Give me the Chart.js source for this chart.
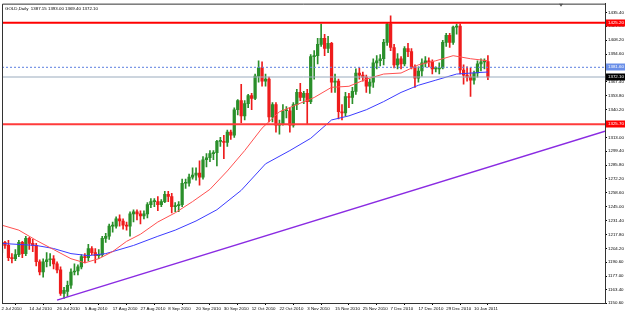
<!DOCTYPE html>
<html>
<head>
<meta charset="utf-8">
<script src="https://cdn.jsdelivr.net/npm/chart.js@4.4.1/dist/chart.umd.min.js"></script>
<style>
  html, body { margin: 0; padding: 0; background: #fff; }
  #wrap { width: 625px; height: 313px; }
</style>
</head>
<body>
<div id="wrap"><canvas id="chart" width="625" height="313"></canvas></div>
<script>
/* ===============================
   DATA (GOLD, Daily, bar index 0 = 2 Jul 2010)
=============================== */
const xTickIdx = [0, 8, 16, 24, 32, 40, 48, 56, 64, 72, 80, 88, 96, 104, 112, 120, 128, 136];
const xTickLabels = [
  '2 Jul 2010', '14 Jul 2010', '26 Jul 2010', '5 Aug 2010', '17 Aug 2010', '27 Aug 2010',
  '8 Sep 2010', '20 Sep 2010', '30 Sep 2010', '12 Oct 2010', '22 Oct 2010', '3 Nov 2010',
  '15 Nov 2010', '25 Nov 2010', '7 Dec 2010', '17 Dec 2010', '29 Dec 2010', '10 Jan 2011'
];
const yTicks = [
  1435.40, 1421.80, 1408.20, 1394.60, 1381.00, 1367.40, 1353.80, 1340.20, 1326.60, 1313.00,
  1299.40, 1285.80, 1272.20, 1258.60, 1245.00, 1231.40, 1217.80, 1204.20, 1190.60, 1177.00,
  1163.40, 1150.60
];

const opens = [
  1200,1210,1207,1195,1194,1198,1210,1199,1214,1209,
  1207,1191,1181,1191,1193,1194,1189,1183,1160,1162,
  1168,1181,1182,1186,1196,1195,1204,1200,1197,1198,
  1214,1216,1226,1226,1233,1231,1227,1226,1238,1240,
  1238,1236,1238,1247,1250,1250,1247,1250,1257,1255,
  1245,1246,1247,1268,1268,1274,1276,1278,1274,1291,
  1293,1297,1298,1309,1309,1308,1318,1315,1340,1349,
  1334,1346,1354,1351,1373,1381,1368,1370,1333,1345,
  1325,1326,1339,1339,1325,1345,1357,1352,1356,1348,
  1392,1393,1404,1410,1400,1405,1367,1368,1338,1337,
  1353,1352,1358,1376,1374,1372,1363,1367,1386,1388,
  1390,1406,1424,1401,1384,1390,1385,1400,1397,1382,
  1371,1378,1386,1388,1387,1380,1380,1381,1406,1413,
  1406,1421,1422,1379,1374,1372,1369,1376,1385,1387,
  1387.15
];
const highs = [
  1212,1211,1212,1199,1203,1212,1211,1216,1215,1213,
  1209,1193,1194,1200,1199,1197,1191,1186,1166,1172,
  1184,1189,1188,1198,1199,1208,1206,1204,1203,1216,
  1219,1228,1230,1235,1237,1233,1230,1240,1242,1242,
  1241,1241,1249,1253,1253,1255,1252,1260,1260,1258,
  1249,1250,1272,1272,1277,1283,1283,1290,1294,1297,
  1300,1300,1310,1313,1315,1320,1320,1342,1350,1365,
  1349,1355,1356,1375,1388,1387,1375,1372,1347,1347,
  1330,1345,1343,1342,1347,1360,1366,1358,1360,1394,
  1398,1410,1424,1414,1412,1406,1375,1370,1345,1357,
  1356,1362,1380,1381,1377,1374,1370,1390,1393,1394,
  1409,1425,1432,1404,1395,1392,1402,1405,1400,1384,
  1382,1390,1392,1391,1389,1382,1386,1408,1415,1415,
  1422,1424,1424,1384,1382,1381,1378,1388,1390,1390,
  1393.00
];
const lows = [
  1196,1204,1192,1190,1192,1196,1195,1197,1203,1201,
  1187,1178,1176,1186,1187,1184,1180,1158,1155,1157,
  1165,1178,1178,1184,1190,1192,1198,1190,1194,1196,
  1210,1213,1220,1224,1226,1223,1222,1216,1230,1232,
  1228,1233,1234,1244,1245,1241,1245,1249,1250,1239,
  1240,1240,1245,1263,1265,1272,1271,1266,1272,1284,
  1289,1291,1285,1304,1292,1304,1311,1313,1335,1327,
  1330,1342,1340,1350,1367,1363,1363,1328,1328,1318,
  1316,1325,1332,1318,1323,1340,1349,1346,1326,1346,
  1370,1385,1402,1393,1396,1357,1357,1331,1330,1334,
  1342,1346,1355,1370,1368,1357,1356,1362,1380,1383,
  1384,1403,1398,1381,1380,1380,1383,1392,1380,1362,
  1367,1373,1382,1382,1375,1377,1375,1380,1402,1401,
  1404,1414,1375,1365,1368,1353,1365,1372,1378,1380,
  1369.40
];
const closes = [
  1210,1207,1195,1194,1198,1210,1199,1214,1209,1207,
  1191,1181,1191,1193,1194,1189,1183,1160,1163,1168,
  1181,1182,1186,1196,1195,1204,1200,1197,1198,1214,
  1216,1226,1226,1233,1231,1227,1226,1238,1240,1238,
  1236,1238,1247,1250,1250,1247,1250,1257,1255,1245,
  1246,1247,1268,1268,1274,1276,1278,1274,1291,1293,
  1297,1298,1309,1309,1308,1318,1315,1340,1349,1334,
  1346,1354,1351,1373,1381,1368,1370,1333,1345,1325,
  1326,1339,1339,1325,1345,1357,1352,1356,1348,1392,
  1393,1404,1410,1400,1405,1367,1368,1338,1337,1353,
  1352,1358,1376,1374,1372,1363,1367,1386,1388,1390,
  1406,1424,1401,1384,1390,1385,1400,1397,1382,1371,
  1378,1386,1388,1387,1380,1380,1381,1406,1413,1406,
  1421,1422,1379,1374,1372,1369,1376,1385,1387,1387,
  1372.10
];

// moving averages at a few bars
const redMaIdx = [0, 5, 10, 15, 20, 24, 28, 32, 36, 40, 45, 50, 55, 60, 65, 70, 75, 80, 85, 90, 95, 100, 105, 110, 115, 120, 125, 130, 135, 140];
const redMaVal = [1227, 1222, 1212, 1203, 1194, 1190, 1194, 1201, 1211, 1218, 1230, 1239, 1250, 1262, 1280, 1300, 1322, 1338, 1345, 1352, 1362, 1363, 1370, 1375, 1376, 1384, 1388, 1393, 1390, 1388];
const blueMaIdx = [0, 10, 15, 20, 25, 30, 38, 45, 50, 56, 62, 69, 76, 83, 89, 95, 100, 105, 110, 115, 120, 125, 131, 138, 140];
const blueMaVal = [1209, 1207, 1204, 1199, 1197, 1199, 1207, 1216, 1222, 1231, 1242, 1261, 1287, 1300, 1312, 1330, 1334, 1340, 1348, 1357, 1364, 1369, 1375, 1376.6, 1377];

// drawn objects
const resistanceLevel = 1425.2;
const supportLevel = 1325.7;
const askLevel = 1381.6;
const bidLevel = 1372.10;
const trendIdx = [16, 173.7];
const trendVal = [1153.4, 1318.9];
const shiftIdx = 161;

const titleText = 'GOLD,Daily  1387.15 1393.00 1369.40 1372.10';

/* ===============================
   SCALE RANGE
=============================== */
const xMin = 0.15, xMax = 173.7;
const yMin = 1150.6, yMax = 1444.0;

const bull = '#2a8f2a';
const bear = '#ee1c1c';
const isBull = i => closes[i] >= opens[i];

const wickData = highs.map((h, i) => ({ x: i, y: [lows[i], h] }));
const bodyData = opens.map((o, i) => ({ x: i, y: [Math.min(o, closes[i]), Math.max(o, closes[i])] }));
const pts = (xs, ys) => xs.map((x, i) => ({ x, y: ys[i] }));
const flat = v => [{ x: xMin, y: v }, { x: xMax, y: v }];

const font = { family: '"Liberation Sans", Arial, sans-serif', size: 4.4 };

/* ===============================
   OVERLAY: frame, title, price tags
=============================== */
const overlay = {
  id: 'overlay',
  afterDraw(chart) {
    const { ctx, chartArea: a, scales: { x, y } } = chart;
    ctx.save();
    ctx.strokeStyle = '#333';
    ctx.lineWidth = 1;
    ctx.beginPath();
    ctx.moveTo(a.left + 0.5, a.bottom);
    ctx.lineTo(a.left + 0.5, a.top + 0.5);
    ctx.lineTo(a.right, a.top + 0.5);
    ctx.stroke();

    // chart shift marker
    const sx = Math.round(x.getPixelForValue(shiftIdx));
    ctx.fillStyle = '#555';
    ctx.beginPath();
    ctx.moveTo(sx - 2, a.top);
    ctx.lineTo(sx + 2, a.top);
    ctx.lineTo(sx, a.top + 3);
    ctx.closePath();
    ctx.fill();

    ctx.fillStyle = '#000';
    ctx.font = `${font.size}px ${font.family}`;
    ctx.textBaseline = 'middle';
    ctx.fillText(titleText, a.left + 3, a.top + 5);

    const tags = [
      { v: resistanceLevel, bg: '#ff0000', fg: '#fff' },
      { v: askLevel, bg: '#6a8fe8', fg: '#fff' },
      { v: bidLevel, bg: '#000', fg: '#fff' },
      { v: supportLevel, bg: '#ff0000', fg: '#fff' }
    ];
    tags.forEach(t => {
      const py = Math.round(y.getPixelForValue(t.v));
      ctx.fillStyle = t.bg;
      ctx.fillRect(a.right + 1, py - 3.5, 19, 7);
      ctx.fillStyle = t.fg;
      ctx.fillText(t.v.toFixed(2), a.right + 3, py);
    });
    ctx.restore();
  }
};

/* ===============================
   CHART
=============================== */
new Chart(document.getElementById('chart'), {
  type: 'bar',
  data: {
    datasets: [
      { type: 'line', data: pts(trendIdx, trendVal), borderColor: '#8a2be2', borderWidth: 1.5, pointRadius: 0, order: 1 },
      { type: 'line', data: flat(resistanceLevel), borderColor: '#ff0000', borderWidth: 2, pointRadius: 0, order: 1 },
      { type: 'line', data: flat(supportLevel), borderColor: '#ff3b3b', borderWidth: 2, pointRadius: 0, order: 1 },
      { type: 'line', data: flat(askLevel), borderColor: '#5a7fe0', borderWidth: 1, borderDash: [2, 2], pointRadius: 0, order: 1 },
      { type: 'line', data: flat(bidLevel), borderColor: '#9aabbd', borderWidth: 1, pointRadius: 0, order: 1 },
      { type: 'line', data: pts(redMaIdx, redMaVal), borderColor: '#ff5050', borderWidth: 1, pointRadius: 0, order: 2 },
      { type: 'line', data: pts(blueMaIdx, blueMaVal), borderColor: '#3c3cff', borderWidth: 1, pointRadius: 0, order: 2 },
      {
        data: bodyData, grouped: false, barThickness: 2.6, minBarLength: 1, order: 3,
        backgroundColor: c => isBull(c.dataIndex) ? bull : bear
      },
      {
        data: wickData, grouped: false, barThickness: 1, order: 4,
        backgroundColor: c => isBull(c.dataIndex) ? bull : bear
      }
    ]
  },
  options: {
    responsive: false,
    animation: false,
    devicePixelRatio: 1,
    layout: { padding: { left: 2, top: 3, right: 0, bottom: 0 } },
    plugins: { legend: { display: false }, tooltip: { enabled: false } },
    scales: {
      x: {
        type: 'linear', min: xMin, max: xMax, offset: false,
        afterBuildTicks: s => { s.ticks = xTickIdx.map(v => ({ value: v })); },
        afterFit: s => { s.height = 10; },
        grid: { drawOnChartArea: false, tickLength: 2, color: '#000' },
        border: { color: '#333' },
        ticks: {
          align: 'start', maxRotation: 0, autoSkip: false, padding: 1, color: '#000', font,
          callback: v => xTickLabels[xTickIdx.indexOf(v)]
        }
      },
      y: {
        type: 'linear', position: 'right', min: yMin, max: yMax,
        afterBuildTicks: s => { s.ticks = yTicks.map(v => ({ value: v })); },
        afterFit: s => { s.width = 20; },
        grid: { drawOnChartArea: false, tickLength: 2, color: '#000' },
        border: { color: '#333' },
        ticks: { padding: 1, color: '#000', font, callback: v => v.toFixed(2) }
      }
    }
  },
  plugins: [overlay]
});
</script>
</body>
</html>
